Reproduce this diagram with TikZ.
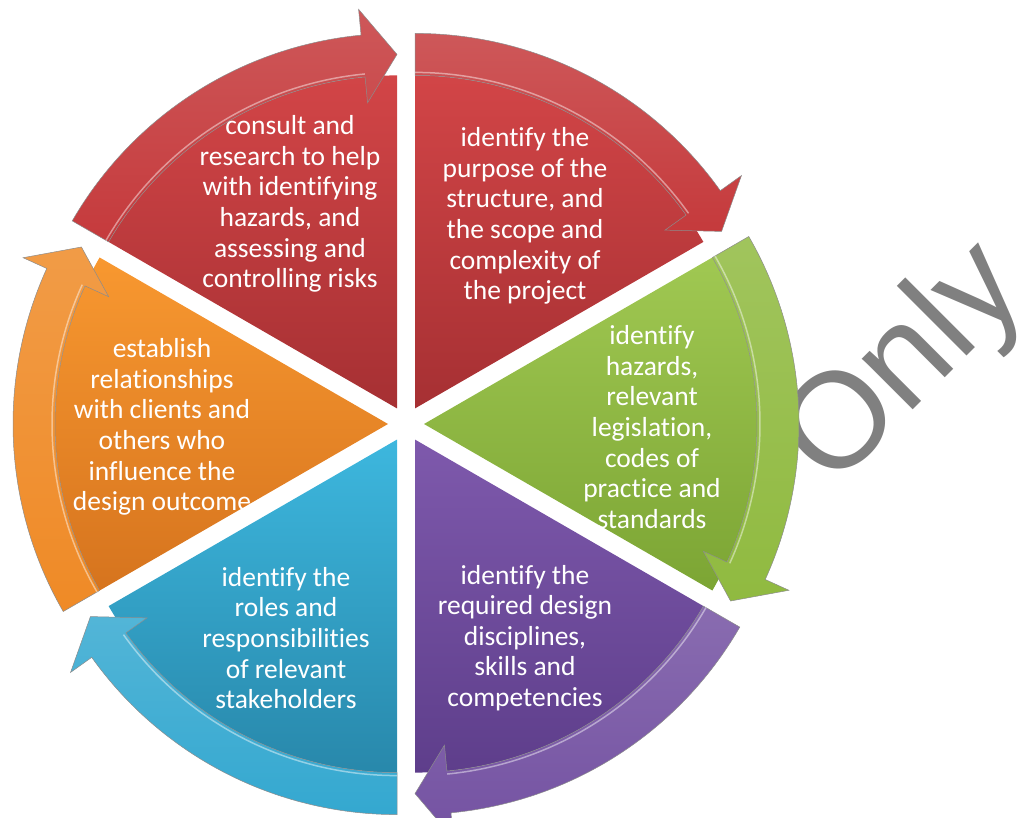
\documentclass[tikz,border=0pt]{standalone}
\usepackage{fontspec}
\setmainfont{Carlito}[Ligatures=NoCommon]
\newfontfamily\wmfont{Liberation Sans}

\definecolor{redlight}{HTML}{D24547}
\definecolor{reddark}{HTML}{A63033}
\definecolor{redband}{HTML}{C53A3C}
\definecolor{greenlight}{HTML}{A0C852}
\definecolor{greendark}{HTML}{7CA534}
\definecolor{greenband}{HTML}{90BA40}
\definecolor{purplelight}{HTML}{7E59AC}
\definecolor{purpledark}{HTML}{5E3E8B}
\definecolor{purpleband}{HTML}{7452A2}
\definecolor{bluelight}{HTML}{3DB7DE}
\definecolor{bluedark}{HTML}{2888AB}
\definecolor{blueband}{HTML}{34A8D0}
\definecolor{orangelight}{HTML}{F89830}
\definecolor{orangedark}{HTML}{D6741E}
\definecolor{orangeband}{HTML}{EF8A26}

\begin{document}
\begin{tikzpicture}[x=1pt,y=1pt,
    stagetext/.style={text=white, align=center, inner sep=0pt, font=\fontsize{27.5}{30.6}\selectfont},
    ring/.style={draw=black!45, line width=0.5pt}]
    \useasboundingbox (0,0) rectangle (1030,817);
    % watermark behind the wheel
    \node[anchor=base, rotate=45, inner sep=0pt, text=black!50, font=\wmfont\fontsize{136}{136}\selectfont] (only) at (931,425) {Only};
    % six arrow sectors, clockwise
    \foreach \a/\ctop/\cbot/\cband [evaluate=\a as \b using \a-60, evaluate=\a as \m using \a-30, evaluate=\a as \e using \a-54.5] in
        {90/redlight/reddark/redband, 30/greenlight/greendark/greenband,
         -30/purplelight/purpledark/purpleband, -90/bluelight/bluedark/blueband,
         210/orangelight/orangedark/orangeband, 150/redlight/reddark/redband}{
        \begin{scope}[shift={(406,393)}, shift={(\m:18)}]
            \shade[top color=\ctop, bottom color=\cbot] (0,0) -- (\a:333) arc[start angle=\a, end angle=\b, radius=333] -- cycle;
            \shadedraw[ring, top color=\cband!85!white, bottom color=\cband] (\a:375) arc[start angle=\a, end angle=\e, radius=375] -- (\e:401) -- (\b:354) -- (\e:307) -- (\e:333) arc[start angle=\e, end angle=\a, radius=333] -- cycle;
            \draw[white, opacity=0.45, line width=1.5pt] (\e:336) arc[start angle=\e, end angle=\a, radius=336];
        \end{scope}
    }
    \node[stagetext] (consult) at (290,613) {consult and\\research to help\\with identifying\\hazards, and\\assessing and\\controlling risks};
    \node[stagetext] (purpose) at (525,601) {identify the\\purpose of the\\structure, and\\the scope and\\complexity of\\the project};
    \node[stagetext] (hazards) at (652,390) {identify\\hazards,\\relevant\\legislation,\\codes of\\practice and\\standards};
    \node[stagetext] (disciplines) at (525,179) {identify the\\required design\\disciplines,\\skills and\\competencies};
    \node[stagetext] (roles) at (286,179) {identify the\\roles and\\responsibilities\\of relevant\\stakeholders};
    \node[stagetext] (relations) at (162,390) {establish\\relationships\\with clients and\\others who\\influence the\\design outcome};
\end{tikzpicture}
\end{document}
